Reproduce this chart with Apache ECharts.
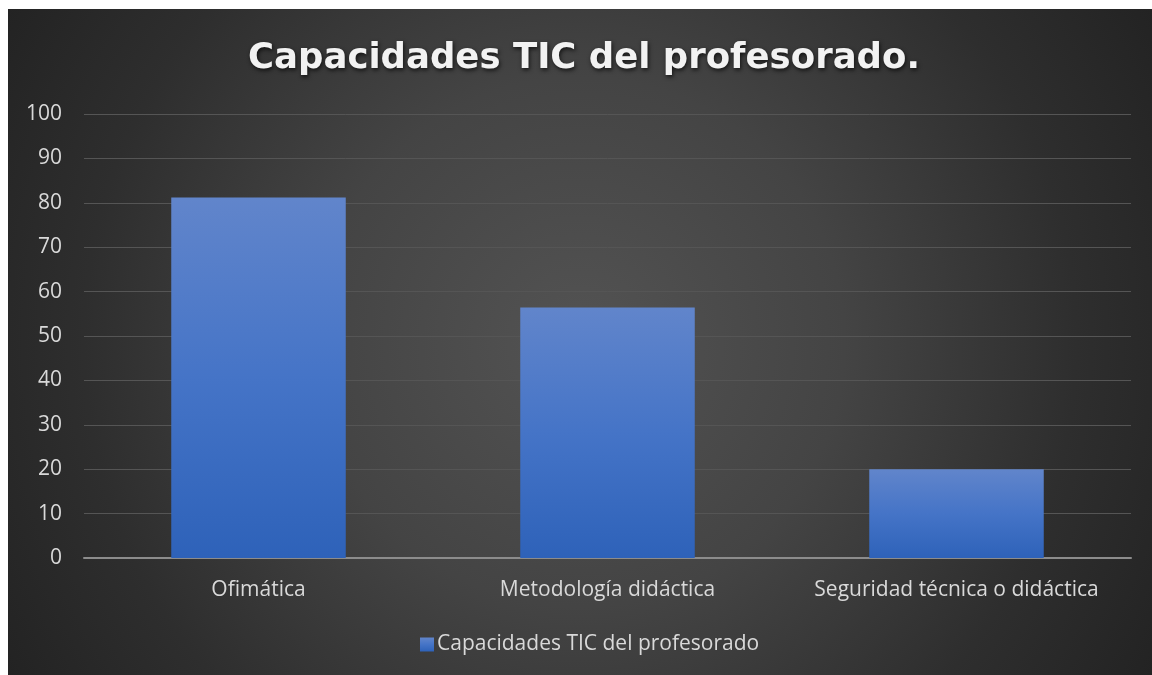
<!DOCTYPE html>
<html>
<head>
<meta charset="utf-8">
<script src="https://cdn.jsdelivr.net/npm/echarts@6/dist/echarts.min.js"></script>
<style>
html,body{margin:0;padding:0;background:#ffffff;width:1152px;height:675px;overflow:hidden;}
#chart{position:absolute;left:8px;top:9px;width:1144px;height:666px;
background:radial-gradient(circle at 50% 50%, #535353 0%, #444444 40%, #2e2e2e 75%, #232323 100%);}
</style>
</head>
<body>
<div id="chart"></div>
<script>
const titleText = 'Capacidades TIC del profesorado.';
const seriesName = 'Capacidades TIC del profesorado';
const categories = ['Ofimática', 'Metodología didáctica', 'Seguridad técnica o didáctica'];
const values = [81.2, 56.4, 20];
const yTicks = {min: 0, max: 100, interval: 10};

const chart = echarts.init(document.getElementById('chart'), null, {renderer: 'canvas'});
const barColor = new echarts.graphic.LinearGradient(0, 0, 0, 1, [
  {offset: 0, color: '#6185cb'},
  {offset: 0.5, color: '#4574c7'},
  {offset: 1, color: '#2e62b9'}
]);
chart.setOption({
  backgroundColor: 'transparent',
  textStyle: {fontFamily: 'Open Sans'},
  title: {
    text: titleText,
    left: 235,
    top: 27,
    textStyle: {
      color: '#f2f2f2', fontSize: 35.5, fontWeight: 'bold', fontFamily: 'DejaVu Sans',
      textShadowColor: 'rgba(0,0,0,0.7)', textShadowBlur: 4, textShadowOffsetX: 1, textShadowOffsetY: 2
    }
  },
  legend: {
    bottom: 15,
    left: 407,
    itemWidth: 14, itemHeight: 14, itemGap: 4,
    icon: 'rect',
    textStyle: {color: '#d9d9d9', fontSize: 21, fontFamily: 'Open Sans', padding: [0,0,0,-2]},
    data: [seriesName]
  },
  grid: {left: 76, right: 21, top: 105, bottom: 117, containLabel: false},
  xAxis: {
    type: 'category',
    data: categories,
    axisLine: {lineStyle: {color: '#8c8c8c', width: 2}},
    axisTick: {show: false},
    axisLabel: {color: '#d9d9d9', fontSize: 21, margin: 22, interval: 0, fontFamily: 'Open Sans'}
  },
  yAxis: {
    type: 'value',
    min: yTicks.min, max: yTicks.max, interval: yTicks.interval,
    axisLine: {show: false},
    axisTick: {show: false},
    axisLabel: {color: '#d9d9d9', fontSize: 21, margin: 22, fontFamily: 'Open Sans'},
    splitLine: {lineStyle: {color: '#555555', width: 1}}
  },
  series: [{
    name: seriesName,
    type: 'bar',
    data: values,
    barWidth: '50%',
    itemStyle: {
      color: barColor,
      shadowColor: 'rgba(0,0,0,0.45)', shadowBlur: 8, shadowOffsetX: 2, shadowOffsetY: 0
    }
  }]
});
</script>
</body>
</html>
